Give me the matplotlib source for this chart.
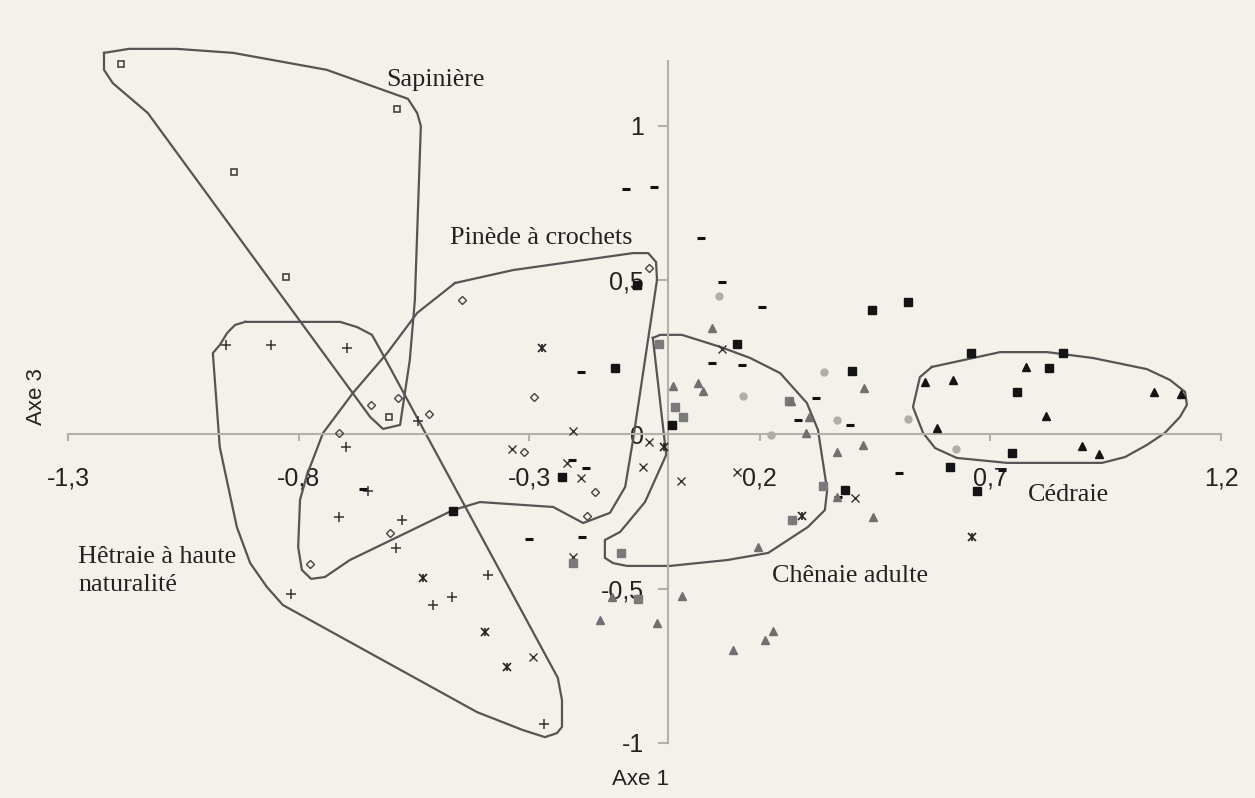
import numpy as np
import matplotlib.pyplot as plt

# point groups (Axe 1, Axe 3)
sap_x = [-1.186, -0.587, -0.940, -0.827, -0.604]
sap_y = [1.202, 1.055, 0.851, 0.511, 0.057]

pin_x = [-0.446, -0.040, -0.643, -0.585, -0.517, -0.712, -0.290, -0.311, -0.157, -0.175, -0.602, -0.775]
pin_y = [0.436, 0.540, 0.096, 0.118, 0.066, 0.005, 0.122, -0.057, -0.186, -0.264, -0.319, -0.420]

het_x = [-0.958, -0.860, -0.695, -0.541, -0.697, -0.650, -0.712, -0.576, -0.589, -0.817, -0.389, -0.467, -0.509, -0.268]
het_y = [0.290, 0.290, 0.280, 0.044, -0.041, -0.183, -0.267, -0.277, -0.368, -0.517, -0.455, -0.527, -0.553, -0.938]

star_x = [-0.272, -0.530, -0.396, -0.348, -0.008, 0.291, 0.660]
star_y = [0.280, -0.465, -0.640, -0.754, -0.041, -0.264, -0.332]

cross_x = [-0.292, -0.205, -0.337, -0.218, -0.188, -0.053, -0.205, 0.118, -0.040, 0.029, 0.150, 0.406]
cross_y = [-0.721, 0.011, -0.047, -0.092, -0.141, -0.105, -0.397, 0.277, -0.024, -0.151, -0.122, -0.206]

dash_x = [-0.090, -0.029, 0.072, 0.118, 0.205, -0.188, 0.096, 0.161, 0.322, 0.283, 0.395,
          -0.207, -0.177, -0.301, -0.186, -0.660, 0.502, 0.369, 0.725]
dash_y = [0.796, 0.802, 0.637, 0.494, 0.413, 0.203, 0.232, 0.225, 0.118, 0.047, 0.031,
          -0.083, -0.109, -0.339, -0.332, -0.177, -0.125, -0.203, -0.115]

bsq_x = [-0.114, -0.229, -0.465, -0.066, 0.150, 0.400, 0.443, 0.521, 0.010, 0.385,
         0.658, 0.857, 0.827, 0.758, 0.747, 0.612, 0.671]
bsq_y = [0.216, -0.138, -0.248, 0.485, 0.293, 0.206, 0.404, 0.429, 0.031, -0.180,
         0.264, 0.264, 0.216, 0.138, -0.060, -0.105, -0.183]

gsq_x = [-0.019, 0.016, 0.033, 0.263, 0.337, 0.270, -0.101, -0.064, -0.205]
gsq_y = [0.293, 0.089, 0.057, 0.109, -0.167, -0.277, -0.384, -0.533, -0.417]

gtri_x = [0.096, 0.012, 0.066, 0.077, 0.268, 0.307, 0.300, 0.426, 0.424, 0.367, 0.367,
          0.445, 0.196, 0.031, -0.147, -0.023, 0.142, 0.211, 0.229, -0.121]
gtri_y = [0.345, 0.157, 0.167, 0.141, 0.109, 0.057, 0.005, 0.151, -0.034, -0.057, -0.203,
          -0.267, -0.365, -0.524, -0.601, -0.611, -0.699, -0.666, -0.637, -0.527]

btri_x = [0.558, 0.619, 0.777, 0.820, 0.584, 0.899, 0.935, 1.055, 1.113]
btri_y = [0.170, 0.177, 0.219, 0.060, 0.021, -0.037, -0.063, 0.138, 0.131]

circ_x = [0.111, 0.163, 0.339, 0.367, 0.224, 0.521, 0.625]
circ_y = [0.449, 0.125, 0.203, 0.047, -0.002, 0.050, -0.047]

# group outlines
hull_sap_x = [-1.222, -1.168, -1.064, -0.942, -0.739, -0.563, -0.543, -0.535, -0.548, -0.559,
              -0.580, -0.617, -0.645, -1.127, -1.203, -1.222]
hull_sap_y = [1.237, 1.250, 1.250, 1.237, 1.182, 1.088, 1.042, 1.000, 0.436, 0.241,
              0.031, 0.018, 0.057, 1.042, 1.139, 1.182]

hull_pin_x = [-0.461, -0.335, -0.075, -0.042, -0.025, -0.023, -0.075, -0.092, -0.125, -0.183,
              -0.248, -0.407, -0.465, -0.689, -0.743, -0.773, -0.793, -0.801, -0.797, -0.782,
              -0.747, -0.682, -0.608, -0.543]
hull_pin_y = [0.491, 0.533, 0.588, 0.588, 0.559, 0.501, -0.018, -0.170, -0.254, -0.287,
              -0.235, -0.219, -0.245, -0.407, -0.462, -0.468, -0.439, -0.365, -0.212, -0.131,
              0.005, 0.135, 0.264, 0.394]

hull_het_x = [-0.916, -0.710, -0.673, -0.641, -0.619, -0.238, -0.229, -0.229, -0.240, -0.266,
              -0.314, -0.413, -0.834, -0.869, -0.905, -0.934, -0.971, -0.986, -0.971, -0.955,
              -0.938]
hull_het_y = [0.365, 0.365, 0.348, 0.323, 0.264, -0.789, -0.861, -0.948, -0.968, -0.981,
              -0.958, -0.900, -0.553, -0.494, -0.417, -0.300, -0.041, 0.264, 0.290, 0.329,
              0.355]

hull_che_x = [-0.032, -0.016, 0.031, 0.114, 0.179, 0.244, 0.302, 0.326, 0.346, 0.341, 0.304,
              0.218, 0.129, 0.005, -0.088, -0.118, -0.136, -0.136, -0.103, -0.049, -0.003]
hull_che_y = [0.313, 0.323, 0.323, 0.284, 0.248, 0.199, 0.102, 0.015, -0.180, -0.245, -0.300,
              -0.384, -0.407, -0.426, -0.426, -0.417, -0.400, -0.342, -0.316, -0.219, -0.066]

hull_ced_x = [0.573, 0.721, 0.823, 0.922, 1.039, 1.089, 1.122, 1.126, 1.111, 1.078, 1.039,
              0.992, 0.942, 0.736, 0.627, 0.580, 0.554, 0.532, 0.547]
hull_ced_y = [0.219, 0.267, 0.267, 0.248, 0.212, 0.177, 0.138, 0.096, 0.057, 0.005, -0.034,
              -0.073, -0.092, -0.092, -0.076, -0.044, 0.005, 0.089, 0.186]

x_ticks = [-1.3, -0.8, -0.3, 0.2, 0.7, 1.2]
y_ticks = [-1, -0.5, 0, 0.5, 1]

bg = '#f4f1ea'
fig = plt.figure(figsize=(12.55, 7.98), dpi=100, facecolor=bg)
ax = fig.add_axes([0, 0, 1, 1])
ax.set_facecolor(bg)
ax.set_xlim(-1.4475, 1.2736)
ax.set_ylim(-1.1783, 1.4084)

# axes crossing at the origin
axc = '#b3b0aa'
for s in ['top', 'right']:
    ax.spines[s].set_visible(False)
ax.spines['left'].set_position(('data', 0))
ax.spines['bottom'].set_position(('data', 0))
ax.spines['left'].set_bounds(-1, 1.21)
ax.spines['bottom'].set_bounds(-1.3, 1.2)
for s in ['left', 'bottom']:
    ax.spines[s].set_color(axc)
    ax.spines[s].set_linewidth(1.5)

ax.set_xticks(x_ticks)
ax.set_yticks(y_ticks)
ax.set_xticklabels([f'{v:g}'.replace('.', ',') for v in x_ticks])
ax.set_yticklabels([f'{v:g}'.replace('.', ',') for v in y_ticks])
ax.tick_params(axis='x', direction='out', length=5, width=1.5, color=axc, pad=18,
               labelsize=18, labelcolor='#222222')
ax.tick_params(axis='y', direction='out', length=7, width=1.5, color=axc, pad=10,
               labelsize=18, labelcolor='#222222')
for lab in ax.get_xticklabels() + ax.get_yticklabels():
    lab.set_family('Liberation Sans')

# outlines
lc = '#555555'
for hx, hy in [(hull_sap_x, hull_sap_y), (hull_pin_x, hull_pin_y), (hull_het_x, hull_het_y),
               (hull_che_x, hull_che_y), (hull_ced_x, hull_ced_y)]:
    ax.plot(hx + hx[:1], hy + hy[:1], color=lc, lw=1.6, zorder=2)

# markers
kw = dict(linestyle='none', zorder=3)
ax.plot(sap_x, sap_y, marker='s', ms=5, mfc='none', mec='#444444', mew=1.2, **kw)
ax.plot(pin_x, pin_y, marker='D', ms=4.5, mfc='none', mec='#444444', mew=1.0, **kw)
ax.plot(het_x, het_y, marker='+', ms=7.5, color='#333333', mew=1.1, **kw)
ax.plot(star_x, star_y, marker='x', ms=5.5, color='#222222', mew=1.2, **kw)
ax.plot(star_x, star_y, marker='|', ms=5.5, color='#222222', mew=1.2, **kw)
ax.plot(cross_x, cross_y, marker='x', ms=5.5, color='#333333', mew=1.0, **kw)
ax.plot(dash_x, dash_y, marker='_', ms=6, color='#111111', mew=2.2, **kw)
ax.plot(bsq_x, bsq_y, marker='s', ms=5.8, color='#141414', **kw)
ax.plot(gsq_x, gsq_y, marker='s', ms=5.8, color='#7a7a7a', **kw)
ax.plot(gtri_x, gtri_y, marker='^', ms=6.2, color='#707070', **kw)
ax.plot(btri_x, btri_y, marker='^', ms=6.2, color='#141414', **kw)
ax.plot(circ_x, circ_y, marker='o', ms=5, color='#b0adaa', **kw)

# group names
tf = dict(family='Liberation Serif', fontsize=18.8, color='#222222', va='baseline', ha='left')
ax.text(-0.611, 1.130, 'Sapinière', **tf)
ax.text(-0.472, 0.617, 'Pinède à crochets', **tf)
ax.text(-1.278, -0.417, 'Hêtraie à haute', **tf)
ax.text(-1.278, -0.507, 'naturalité', **tf)
ax.text(0.226, -0.478, 'Chênaie adulte', **tf)
ax.text(0.781, -0.216, 'Cédraie', **tf)

# axis titles
ax.text(-0.058, -1.117, 'Axe 1', family='Liberation Sans', fontsize=16, color='#222222',
        ha='center', va='center')
ax.text(-1.369, 0.122, 'Axe 3', family='Liberation Sans', fontsize=16, color='#222222',
        ha='center', va='center', rotation=90)

fig.savefig('out.png', dpi=100, facecolor=bg)
